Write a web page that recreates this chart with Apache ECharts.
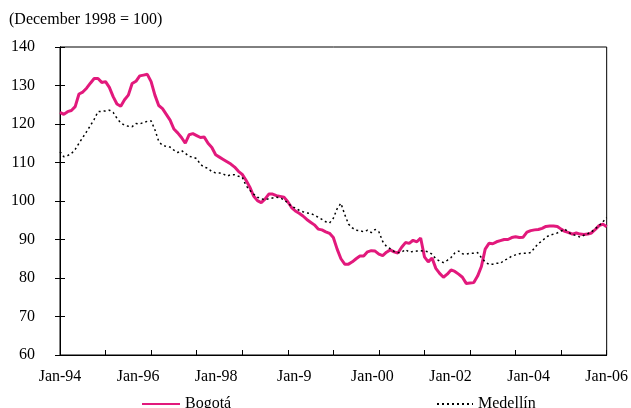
<!DOCTYPE html>
<html>
<head>
<meta charset="utf-8">
<script src="https://cdn.jsdelivr.net/npm/echarts@6/dist/echarts.min.js"></script>
<style>html,body{margin:0;padding:0;background:#fff}#c{width:631px;height:408px}</style>
</head>
<body>
<div id="c"></div>
<script>
// Monthly index values, Jan-94 .. Jan-06 (145 months)
const bogota = [
123.0,122.5,123.2,123.5,124.5,127.8,128.3,129.3,130.6,131.8,131.8,130.8,
131.0,129.5,127.1,125.2,124.6,126.3,127.5,130.5,131.1,132.5,132.7,132.9,
131.0,127.5,124.8,124.0,122.5,121.0,118.7,117.7,116.5,115.0,117.2,117.5,
117.0,116.5,116.6,115.0,113.9,112.0,111.4,110.8,110.2,109.6,108.8,107.7,
106.9,105.4,103.6,101.3,100.1,99.6,100.5,101.8,101.8,101.4,101.2,101.0,
99.8,98.3,97.4,96.8,96.1,95.2,94.5,93.8,92.7,92.5,92.0,91.6,
90.5,87.5,85.0,83.6,83.6,84.2,85.0,85.7,85.7,86.8,87.1,87.0,
86.2,85.8,86.7,87.3,86.8,86.5,88.0,89.2,89.0,89.8,89.4,90.4,
85.5,84.2,85.2,82.5,81.2,80.2,81.0,82.1,81.7,81.0,80.2,78.6,
78.7,78.8,80.5,83.0,87.5,89.0,88.9,89.4,89.7,90.0,90.0,90.5,
90.7,90.5,90.6,91.9,92.3,92.5,92.6,92.9,93.4,93.5,93.5,93.4,
92.7,92.1,91.8,91.4,91.7,91.4,91.3,91.4,91.7,92.6,93.6,94.0,
93.3
];
const medellin = [
112.8,111.5,111.8,112.3,113.4,115.0,116.5,118.0,119.6,121.2,123.2,123.3,
123.4,123.6,123.0,121.5,120.3,119.7,119.4,119.3,120.1,120.0,120.4,120.7,
120.8,118.5,115.5,114.4,114.2,114.0,113.2,112.6,113.1,112.4,111.6,111.4,
111.0,109.5,108.8,108.5,107.6,107.3,107.3,107.0,106.5,106.8,106.8,106.4,
106.2,104.0,102.8,101.8,101.0,100.6,100.3,100.6,100.8,101.0,100.8,100.3,
99.5,98.6,98.2,97.6,97.2,96.9,96.8,96.3,95.8,95.2,94.6,94.3,
95.5,98.0,99.4,96.5,94.0,93.0,92.4,92.3,92.0,92.4,91.8,92.6,
92.0,89.5,88.2,87.6,86.9,86.6,86.7,87.4,86.7,86.9,87.0,87.1,
87.0,86.8,86.2,85.0,84.4,84.0,84.6,85.3,86.5,87.0,86.3,86.2,
86.4,86.4,86.6,85.3,84.2,83.5,83.6,83.8,83.8,84.6,85.0,85.7,
86.0,86.3,86.4,86.4,86.6,87.8,89.0,89.6,90.6,91.1,91.4,91.7,
92.2,92.7,91.8,91.3,91.0,90.6,91.1,91.5,92.0,92.8,93.6,94.6,
95.7
];
const xLabels = ["Jan-94","Jan-96","Jan-98","Jan-9","Jan-00","Jan-02","Jan-04","Jan-06"];
const yTicks = [60,70,80,90,100,110,120,130,140];
const titleText = "(December 1998 = 100)";

const FONT = "'Liberation Serif','DejaVu Serif',serif";
const FS = 16;
const toPairs = arr => arr.map((v, i) => [i, v]);
const chart = echarts.init(document.getElementById('c'), null, {renderer: 'canvas'});
const lineBlack = {show: true, lineStyle: {color: '#000', width: 1}};
const legendText = {fontFamily: FONT, fontSize: FS, color: '#000'};
chart.setOption({
  animation: false,
  backgroundColor: '#fff',
  title: {text: titleText, left: 4, top: 7,
    textStyle: {fontFamily: FONT, fontSize: FS, fontWeight: 'normal', color: '#000'}},
  grid: {left: 60, right: 23, top: 47, bottom: 53, show: true, borderColor: '#000', borderWidth: 1, backgroundColor: 'transparent'},
  legend: [
    {data: [{name: 'Bogotá'}], left: 136, top: 391, itemWidth: 38, itemHeight: 3, itemGap: 6,
      itemStyle: {opacity: 0}, textStyle: legendText},
    {data: [{name: 'Medellín'}], left: 431, top: 391, itemWidth: 36, itemHeight: 3, itemGap: 6,
      itemStyle: {opacity: 0}, textStyle: legendText}
  ],
  xAxis: [
    {type: 'value', min: 0, max: bogota.length - 1, interval: 12, position: 'bottom',
      axisLine: lineBlack, axisTick: {show: true, inside: true, length: 5, lineStyle: {color: '#000'}},
      axisLabel: {show: false}, splitLine: {show: false}},
    {type: 'value', min: 0, max: xLabels.length - 1, interval: 1, position: 'bottom',
      axisLine: {show: false}, axisTick: {show: false}, splitLine: {show: false},
      axisLabel: {margin: 14, fontFamily: FONT, fontSize: FS, color: '#000',
        formatter: v => xLabels[Math.round(v)] || ''}}
  ],
  yAxis: [
    {type: 'value', min: yTicks[0], max: yTicks[yTicks.length - 1], interval: 10, position: 'left',
      axisLine: lineBlack, axisTick: {show: true, inside: true, length: 5, lineStyle: {color: '#000'}},
      splitLine: {show: false},
      axisLabel: {margin: 25, fontFamily: FONT, fontSize: FS, color: '#000'}},
    {type: 'value', min: yTicks[0], max: yTicks[yTicks.length - 1], interval: 10, position: 'right',
      axisLine: lineBlack, axisTick: {show: true, inside: true, length: 5, lineStyle: {color: '#000'}},
      splitLine: {show: false}, axisLabel: {show: false}}
  ],
  series: [
    {name: 'Bogotá', type: 'line', xAxisIndex: 0, yAxisIndex: 0, data: toPairs(bogota),
      showSymbol: false, symbol: 'none', color: '#E2197C',
      lineStyle: {color: '#E2197C', width: 3}},
    {name: 'Medellín', type: 'line', xAxisIndex: 0, yAxisIndex: 0, data: toPairs(medellin),
      showSymbol: false, symbol: 'none', color: '#000',
      lineStyle: {color: '#000', width: 1.5, type: [2, 3]}, z: 3}
  ]
});
</script>
</body>
</html>
